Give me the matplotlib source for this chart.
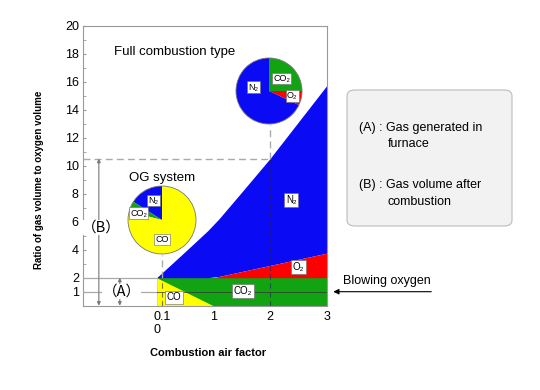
import matplotlib
matplotlib.use("Agg")
import matplotlib.pyplot as plt
from matplotlib.patches import FancyBboxPatch
import numpy as np

plt.rcParams['font.family'] = ['Liberation Sans', 'DejaVu Sans']

# ---- data ----
air_factor = [0.0, 0.5, 0.9, 1.1, 1.5, 2.0, 3.0]
total_top = [2.0, 3.85, 5.35, 6.2, 8.1, 10.5, 15.7]   # upper edge of N2 (total volume)
o2_x = [1.0, 3.0]
o2_top = [2.0, 3.75]
co_x = [0.0, 1.0]
co_top = [2.0, 0.0]
co2_level = 2.0

og_pie_labels = ["N₂", "CO₂", "CO"]
og_pie_values = [16, 5, 79]
full_pie_labels = ["O₂", "CO₂", "N₂"]
full_pie_values = [7, 25, 68]

yticks = [1, 2, 4, 6, 8, 10, 12, 14, 16, 18, 20]
xticks = [0.1, 1, 2, 3]

BLUE = '#0a0af5'
GREEN = '#12a312'
YELLOW = '#ffff00'
RED = '#ff0000'

fig = plt.figure(figsize=(5.4, 3.9), dpi=100)
W, H = 540, 390

def fx(px):
    return px / W

def fy(py):
    return 1 - py / H

ax = fig.add_axes([fx(83), fy(305.7), fx(326.5) - fx(83), fy(25.7) - fy(305.7)])
ax.set_xlim(-1.3, 3.0)
ax.set_ylim(0, 20)

# fills
ax.fill_between([0, 3], 0, co2_level, color=GREEN, lw=0, zorder=1)
ax.fill_between(co_x, 0, co_top, color=YELLOW, lw=0, zorder=2)
o2_interp = np.interp(air_factor, [0.0] + o2_x, [2.0] + o2_top)
ax.fill_between(air_factor, o2_interp, total_top, color=BLUE, lw=0, zorder=2)
ax.fill_between(o2_x, co2_level, o2_top, color=RED, lw=0, zorder=2)

for s in ax.spines.values():
    s.set_color('#999999')
    s.set_linewidth(0.8)

ax.set_yticks(yticks)
ax.set_yticklabels([str(v) for v in yticks], fontsize=9)
ax.set_yticks(range(0, 21), minor=True)
ax.tick_params(axis='y', which='both', direction='in', length=2.5, color='#999999', pad=3)
ax.set_xticks(xticks)
ax.set_xticklabels(['0.1', '1', '2', '3'], fontsize=9)
ax.tick_params(axis='x', length=0, pad=4)
ax.text(0.0, -1.3, '0', ha='center', va='top', fontsize=9, clip_on=False)

ax.set_xlabel('Combustion air factor', fontsize=8, fontweight='bold')
ax.xaxis.set_label_coords(0.513, -0.152)
ax.set_ylabel('Ratio of gas volume to oxygen volume', fontsize=7, fontweight='bold')
ax.yaxis.set_label_coords(-0.16, 0.45)

# guide lines
gray = '#aaaaaa'
ax.plot([-1.3, 2.0], [10.5, 10.5], ls=(0, (5, 3)), color=gray, lw=1.0, zorder=3)
ax.plot([2.0, 2.0], [10.5, 12.9], ls=(0, (5, 3)), color=gray, lw=1.0, zorder=3)
ax.plot([2.0, 2.0], [0, 10.5], ls=(0, (5, 3)), color='#222266', lw=0.8, alpha=0.6, zorder=3)
ax.plot([0.1, 0.1], [2.0, 3.6], ls=(0, (5, 3)), color=gray, lw=1.0, zorder=3)
ax.plot([0.1, 0.1], [0, 2.0], ls=(0, (5, 3)), color='#444444', lw=0.8, alpha=0.7, zorder=3)
ax.plot([-1.3, 0], [2, 2], color=gray, lw=0.9, zorder=3)
ax.plot([-1.3, 0], [1, 1], color=gray, lw=0.9, zorder=3)
ax.plot([0, 3], [1, 1], color='#333333', lw=0.7, alpha=0.7, zorder=3)

# (A) and (B) arrows
ax.annotate('', xy=(-0.65, 2.0), xytext=(-0.65, 0.0),
            arrowprops=dict(arrowstyle='<|-|>', color='#777777', lw=0.8,
                            mutation_scale=5, shrinkA=0, shrinkB=0), zorder=3)
ax.annotate('', xy=(-1.02, 10.5), xytext=(-1.02, 0.0),
            arrowprops=dict(arrowstyle='<|-|>', color='#777777', lw=0.8,
                            mutation_scale=5, shrinkA=0, shrinkB=0), zorder=3)
ax.text(-0.62, 1.0, '（A）', ha='center', va='center', fontsize=10.5,
        family=['Noto Sans CJK JP', 'DejaVu Sans'],
        bbox=dict(fc='white', ec='none', pad=0.5), zorder=4)
ax.text(-0.97, 5.6, '（B）', ha='center', va='center', fontsize=10.5,
        family=['Noto Sans CJK JP', 'DejaVu Sans'],
        bbox=dict(fc='white', ec='none', pad=0.5), zorder=4)

# region labels
lbl_box = dict(fc='white', ec='#666666', lw=0.4, pad=1.2)
def lbl(x, y, s, fs=7):
    ax.text(x, y, s, ha='center', va='center', fontsize=fs, bbox=lbl_box, zorder=5)

lbl(2.38, 7.55, 'N₂')
lbl(2.5, 2.76, 'O₂')
lbl(1.52, 1.05, 'CO₂')
lbl(0.3, 0.6, 'CO')

ax.text(0.32, 18.1, 'Full combustion type', ha='center', va='center', fontsize=9.5)
ax.text(0.1, 9.1, 'OG system', ha='center', va='center', fontsize=9.5)

# Blowing oxygen
ax.annotate('', xy=(3.12, 1.0), xytext=(4.85, 1.0),
            arrowprops=dict(arrowstyle='-|>', color='black', lw=0.8, mutation_scale=8,
                            shrinkA=0, shrinkB=0), annotation_clip=False)
ax.text(3.3, 1.75, 'Blowing oxygen', ha='left', va='center', fontsize=9, clip_on=False)

# pies
def pie(cx, cy, r, values, colors, startangle, labels, lpos):
    pa = fig.add_axes([fx(cx - r), fy(cy + r), fx(2 * r), fy(cy - r) - fy(cy + r)])
    pa.pie(values, colors=colors, startangle=startangle, counterclock=True,
           wedgeprops=dict(edgecolor='none'), radius=1.0)
    circ = plt.Circle((0, 0), 1.0, fill=False, ec='#777777', lw=0.6)
    pa.add_patch(circ)
    pa.set_xlim(-1.03, 1.03)
    pa.set_ylim(-1.03, 1.03)
    pa.set_aspect('equal')
    pa.axis('off')
    for s, (lx, ly) in zip(labels, lpos):
        pa.text(lx, ly, s, ha='center', va='center', fontsize=6.5,
                bbox=dict(fc='white', ec='#666666', lw=0.4, pad=1.0))

pie(162, 220, 35, og_pie_values, [BLUE, GREEN, YELLOW], 90,
    og_pie_labels, [(-0.26, 0.57), (-0.69, 0.2), (0.0, -0.57)])
pie(269, 91, 34, full_pie_values, [RED, GREEN, BLUE], -25.2,
    full_pie_labels, [(0.7, -0.15), (0.38, 0.38), (-0.47, 0.12)])

# legend box
box = FancyBboxPatch((fx(347), fy(226)), fx(512) - fx(347), fy(90) - fy(226),
                     boxstyle='round,pad=0,rounding_size=0.015',
                     transform=fig.transFigure, fc='#f2f2f2', ec='#bbbbbb', lw=0.8)
fig.patches.append(box)
fig.text(fx(359), fy(128), '(A) : Gas generated in', ha='left', va='center', fontsize=9)
fig.text(fx(388), fy(144), 'furnace', ha='left', va='center', fontsize=9)
fig.text(fx(359), fy(185), '(B) : Gas volume after', ha='left', va='center', fontsize=9)
fig.text(fx(388), fy(202), 'combustion', ha='left', va='center', fontsize=9)

fig.savefig('out.png', dpi=100)
